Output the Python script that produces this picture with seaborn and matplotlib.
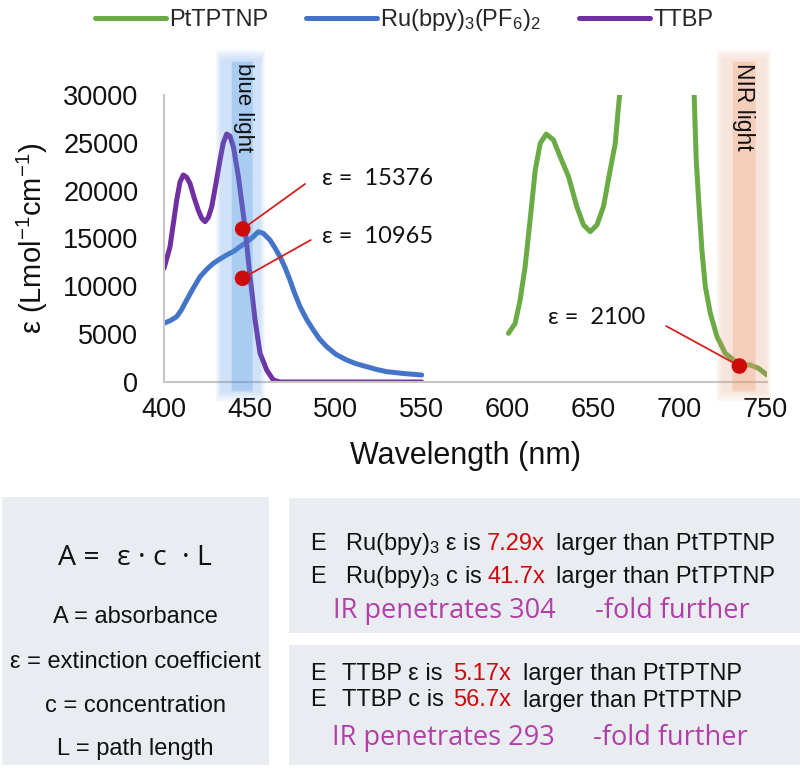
import matplotlib
matplotlib.use("Agg")
import matplotlib.pyplot as plt
from matplotlib.patches import Rectangle
import seaborn as sns

# ---------------- data ----------------
pt_wl = [600.5, 604.4, 607.3, 610.2, 613.1, 616.1, 619.0, 622.5, 626.7, 630.6, 635.5,
         640.3, 644.2, 648.1, 652.0, 655.8, 659.7, 662.7, 664.0, 665.2, 670, 680, 690,
         700, 706, 708.6, 709.8, 711.2, 713.1, 715.1, 718.0, 721.9, 726.7, 731.6, 736.4,
         741.3, 746.1, 751.0]
pt_eps = [5090, 6130, 8570, 12050, 16930, 22160, 24950, 25920, 25300, 23550, 21460,
          18330, 16410, 15710, 16410, 18330, 22160, 24950, 27730, 30000, 36000, 55000, 75000,
          55000, 36000, 30000, 23200, 19020, 13800, 9960, 7180, 4740, 3000, 2300, 1780,
          1780, 1430, 730]

ru_wl = [400, 404, 407.4, 410, 413.2, 417, 421, 425, 428.7, 432.5, 436.5, 440.5, 444.2,
         448, 452, 454.9, 457.8, 461.7, 464.5, 467.5, 470.5, 473.3, 476, 479.2, 483,
         486.9, 490.5, 494.7, 500, 506.3, 512, 518, 524, 529.6, 540, 550]
ru_eps = [6130, 6450, 6830, 7500, 8570, 9800, 11010, 11800, 12400, 12850, 13280, 13650,
          14140, 14600, 15190, 15710, 15540, 14840, 14050, 13100, 11950, 10660, 9300,
          7870, 6550, 5440, 4500, 3690, 2900, 2300, 1900, 1600, 1300, 1080, 880, 730]

ttbp_wl = [400, 403.5, 407.4, 409.3, 411.2, 413.2, 415.1, 417.5, 419.9, 422, 423.9, 425.8,
           427.8, 430.2, 432.6, 434.5, 436.5, 438.4, 440.4, 443.3, 447.1, 450.1, 453.0,
           455.9, 459.8, 463.6, 467.5, 480, 500, 520, 550]
ttbp_eps = [11880, 14140, 19020, 20900, 21640, 21400, 20770, 19300, 17980, 17100, 16760,
            17200, 18330, 20700, 23200, 25000, 25920, 25700, 24600, 21460, 16230, 11010,
            6480, 3000, 1250, 210, 0, 0, 0, 0, 0]

series_names = ["PtTPTNP", "Ru(bpy)$_3$(PF$_6$)$_2$", "TTBP"]
x_ticks = [400, 450, 500, 550, 600, 650, 700, 750]
y_ticks = [0, 5000, 10000, 15000, 20000, 25000, 30000]

marker_wl = [445.8, 445.7, 734.9]
marker_eps = [16000, 10840, 1670]
marker_labels = ["ε =  15376", "ε =  10965", "ε =  2100"]
# start of the thin leader line for each marker
leader_wl = [482.1, 485.4, 692.3]
leader_eps = [20700, 14840, 5850]
# position of each marker label
label_wl = [492.0, 492.0, 623.6]
label_eps = [21320, 15160, 6790]

# ---------------- style ----------------
sns.set_theme(style="white")
plt.rcParams["font.family"] = ["Liberation Sans", "DejaVu Sans"]
plt.rcParams["mathtext.fontset"] = "custom"
plt.rcParams["mathtext.rm"] = "Liberation Sans"
plt.rcParams["mathtext.it"] = "Liberation Sans"
plt.rcParams["mathtext.default"] = "regular"

W, H = 800, 774
def fx(x):
    return x / W
def fy(y):
    return 1 - y / H

GREEN = "#6aab45"
BLUE = "#4474c8"
PURPLE = "#7030a2"
RED = "#cc0a0a"
MAGENTA = "#b23fa8"
BOX = "#e9ecf1"
HUMAN = ["Lato", "DejaVu Sans"]
OPEN = ["Open Sans", "DejaVu Sans"]

fig = plt.figure(figsize=(8, 7.74), dpi=100)
fig.patch.set_facecolor("white")
ax = fig.add_axes([fx(164), fy(382), 603 / W, 287 / H])
ax.set_facecolor("white")

for wl, eps, col, name in [(pt_wl, pt_eps, GREEN, series_names[0]),
                           (ru_wl, ru_eps, BLUE, series_names[1]),
                           (ttbp_wl, ttbp_eps, PURPLE, series_names[2])]:
    sns.lineplot(x=wl, y=eps, ax=ax, color=col, linewidth=3.6, label=name,
                 sort=False, estimator=None, zorder=2)

handles, labels = ax.get_legend_handles_labels()
if ax.get_legend() is not None:
    ax.get_legend().remove()

ax.set_xlim(400, 751)
ax.set_ylim(0, 30000)
ax.set_xticks(x_ticks)
ax.set_yticks(y_ticks)
ax.tick_params(axis="both", length=0, labelsize=19.5, colors="#111111")
ax.tick_params(axis="y", pad=18.5)
ax.tick_params(axis="x", pad=11)
sns.despine(ax=ax)
for s in ("left", "bottom"):
    ax.spines[s].set_color("#c6c6c6")
    ax.spines[s].set_linewidth(1.5)
ax.grid(False)

ax.set_xlabel("Wavelength (nm)", fontsize=22, color="#111111")
ax.xaxis.set_label_coords(0.5, -0.258)
ax.xaxis.label.set_va("center")
ax.set_ylabel("ε (Lmol$^{-1}$cm$^{-1}$)", fontsize=21, color="#111111")
ax.yaxis.set_label_coords(-0.218, 0.5)
ax.yaxis.label.set_va("center")

# soft light bands (blue light / NIR light), drawn in data x, axes y
xt = ax.get_xaxis_transform()
def glow(x0, x1, y0, y1, color, total_alpha, sx, sy, n=8):
    a = 1 - (1 - total_alpha) ** (1.0 / n)
    for k in range(n):
        f = (n - k) / n
        ax.add_patch(Rectangle((x0 - sx * f, y0 - sy * f), (x1 - x0) + 2 * sx * f,
                               (y1 - y0) + 2 * sy * f, transform=xt, facecolor=color,
                               edgecolor="none", alpha=a, clip_on=False, zorder=3))

BLUE_BAND = "#5096e6"
glow(433.5, 455.5, -0.03, 1.12, BLUE_BAND, 0.26, 3.5, 0.04)
glow(440.0, 451.0, -0.025, 1.11, BLUE_BAND, 0.28, 0.8, 0.01, n=3)
NIR_BAND = "#f0a078"
glow(725.0, 750.0, -0.03, 1.12, NIR_BAND, 0.26, 3.5, 0.04)
glow(731.5, 744.0, -0.025, 1.11, NIR_BAND, 0.30, 0.8, 0.01, n=3)

ax.text(446.0, 1.112, "blue light", transform=xt, rotation=-90, ha="center", va="top",
        fontsize=16, color="#111111", zorder=7)
ax.text(737.5, 1.112, "NIR light", transform=xt, rotation=-90, ha="center", va="top",
        fontsize=16.5, color="#111111", zorder=7)

# markers with leader lines and labels
for lx, ly, mx, my in zip(leader_wl, leader_eps, marker_wl, marker_eps):
    ax.plot([lx, mx], [ly, my], color="#d42020", linewidth=1.3, zorder=5)
sns.scatterplot(x=marker_wl, y=marker_eps, ax=ax, color=RED, s=125, edgecolor="none",
                zorder=6, legend=False)
for tx, ty, tt in zip(label_wl, label_eps, marker_labels):
    ax.text(tx, ty, tt, ha="left", va="center", fontsize=17, family=HUMAN,
            color="#111111", zorder=7)

# legend
fig.legend(handles, labels, loc="center", bbox_to_anchor=(fx(404), fy(20)), ncol=3,
           frameon=False, fontsize=17, handlelength=3.0, handletextpad=0.15,
           columnspacing=1.6)
for h in fig.legends[0].get_lines():
    h.set_linewidth(3.6)

# ---------------- bottom panels ----------------
def box(x0, y0, x1, y1):
    fig.add_artist(Rectangle((fx(x0), fy(y1)), (x1 - x0) / W, (y1 - y0) / H,
                             transform=fig.transFigure, facecolor=BOX, edgecolor="none",
                             zorder=0))

box(2, 497, 269, 765)
box(289, 498, 800, 633)
box(289, 645, 800, 765)

def t(x, y, s, size, color="#111111", family=None, ha="left"):
    kw = {}
    if family is not None:
        kw["family"] = family
    fig.text(fx(x), fy(y), s, ha=ha, va="baseline", fontsize=size, color=color, **kw)

# left panel
t(58, 565, "A =", 20.5, family=OPEN)
t(117, 565, "ε · c", 20.5, family=OPEN)
t(182, 565, "· L", 20.5, family=OPEN)
t(135.5, 623, "A = absorbance", 17, ha="center")
t(135.5, 668, "ε = extinction coefficient", 17, ha="center")
t(135.5, 712, "c = concentration", 17, ha="center")
t(135.5, 755, "L = path length", 17, ha="center")

# right panel 1
t(310, 550, "E", 17)
t(345, 550, "Ru(bpy)$_3$ ε is", 17)
t(487, 550, "7.29x", 17, color=RED)
t(556, 550, "larger than PtTPTNP", 17)
t(310, 583, "E", 17)
t(345, 583, "Ru(bpy)$_3$ c is", 17)
t(487, 583, "41.7x", 17, color=RED)
t(556, 583, "larger than PtTPTNP", 17)
t(333, 618, "IR penetrates 304", 19.5, color=MAGENTA, family=OPEN)
t(595, 618, "-fold further", 19.5, color=MAGENTA, family=OPEN)

# right panel 2
t(310, 680, "E", 17)
t(342, 680, "TTBP ε is", 17)
t(453, 680, "5.17x", 17, color=RED)
t(523, 680, "larger than PtTPTNP", 17)
t(310, 706.5, "E", 17)
t(342, 706.5, "TTBP c is", 17)
t(453, 706.5, "56.7x", 17, color=RED)
t(523, 706.5, "larger than PtTPTNP", 17)
t(332, 745, "IR penetrates 293", 19.5, color=MAGENTA, family=OPEN)
t(593, 745, "-fold further", 19.5, color=MAGENTA, family=OPEN)

fig.savefig("out.png", dpi=100, facecolor="white")
